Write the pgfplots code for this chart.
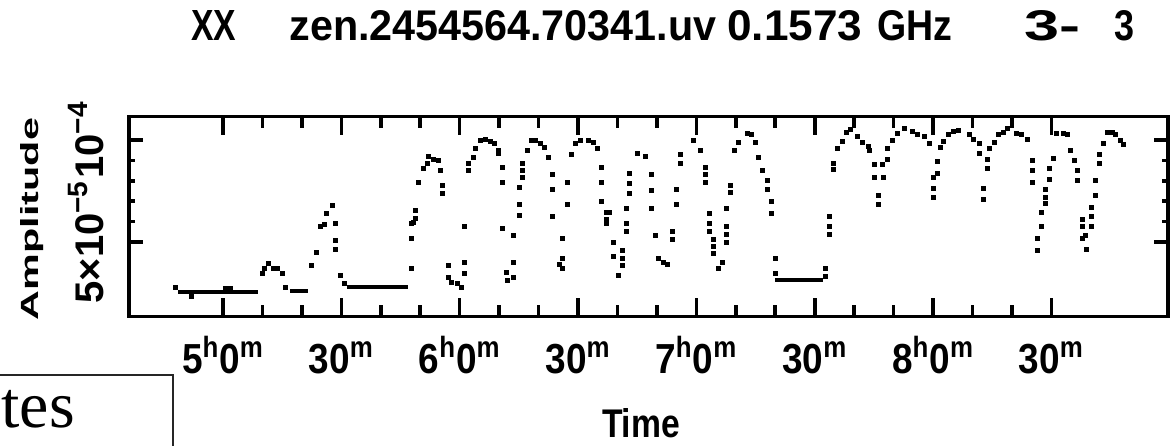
\documentclass[border=0pt]{standalone}
\usepackage{fontspec}
\setmainfont{Liberation Sans}
\newfontfamily\condfont[FakeStretch=0.88]{Liberation Sans}
\newfontfamily\seriffont{Liberation Serif}
\usepackage{pgfplots}
\pgfplotsset{compat=1.18}
\begin{document}
\begin{tikzpicture}
\useasboundingbox (0pt,0pt) rectangle (588pt,222.5pt);
\begin{axis}[
  at={(64.5pt,64.25pt)}, anchor=south west,
  scale only axis, width=519.5pt, height=100pt,
  xmin=4.603, xmax=8.9925, ymin=1.348, ymax=11.152,
  axis line style={line width=1.8pt},
  tick style={black, line width=1.8pt},
  xtick style={/pgfplots/major tick length=9.5pt, /pgfplots/minor tick length=6pt},
  ytick style={/pgfplots/major tick length=7pt, /pgfplots/minor tick length=3pt},
  xtick={5,5.5,6,6.5,7,7.5,8,8.5},
  xticklabels={5\textsuperscript{h}0\textsuperscript{m}, 30\textsuperscript{m}, 6\textsuperscript{h}0\textsuperscript{m}, 30\textsuperscript{m}, 7\textsuperscript{h}0\textsuperscript{m}, 30\textsuperscript{m}, 8\textsuperscript{h}0\textsuperscript{m}, 30\textsuperscript{m}},
  minor x tick num=2,
  ytick={5,10},
  yticklabels={{5×10\textsuperscript{−5}},{10\textsuperscript{−4}}},
  minor y tick num=4,
  xticklabel style={font=\condfont\bfseries\fontsize{21}{21}\selectfont, anchor=base, inner sep=0pt},
  xticklabel shift=28.25pt,
  yticklabel style={font=\bfseries\fontsize{20}{20}\selectfont, rotate=90, anchor=base, inner sep=0pt},
  yticklabel shift=13pt,
  clip=false,
]
% flat segments
\addplot[black, line width=2pt] coordinates {(4.810,2.55) (5.148,2.55)};
\addplot[black, line width=2pt] coordinates {(5.000,2.745) (5.042,2.745)};
\addplot[black, line width=2pt] coordinates {(5.283,2.60) (5.359,2.60)};
\addplot[black, line width=2pt] coordinates {(5.524,2.79) (5.782,2.79)};
\addplot[black, line width=2pt] coordinates {(7.332,3.14) (7.535,3.14)};
% scattered points
\addplot[only marks, mark=square*, mark size=1pt, mark options={draw=none, fill=black}] table {
t a
4.797 2.75
4.865 2.35
5.165 3.48
5.177 3.73
5.194 3.97
5.211 3.73
5.232 3.73
5.249 3.48
5.262 2.75
5.372 3.87
5.393 4.51
5.410 5.78
5.427 5.88
5.439 6.42
5.461 6.77
5.477 5.93
5.477 5.10
5.477 4.66
5.494 3.38
5.511 2.99
5.794 3.73
5.794 5.20
5.794 5.93
5.803 5.98
5.811 6.18
5.811 6.57
5.824 7.94
5.845 8.63
5.862 8.87
5.866 9.22
5.887 9.07
5.908 9.02
5.917 8.53
5.929 7.75
5.929 7.40
5.951 3.87
5.951 3.28
5.967 3.04
5.989 2.99
6.006 2.79
6.018 3.48
6.018 4.02
6.022 5.74
6.035 8.53
6.035 8.87
6.056 9.17
6.065 9.61
6.086 10.00
6.107 10.05
6.128 9.95
6.145 9.85
6.162 9.51
6.162 9.36
6.179 8.68
6.179 7.94
6.179 5.69
6.196 3.53
6.200 3.14
6.225 3.28
6.229 4.02
6.229 5.34
6.251 6.32
6.251 6.86
6.251 7.70
6.267 8.19
6.267 8.53
6.267 8.87
6.284 9.51
6.301 10.00
6.318 10.00
6.339 9.85
6.356 9.66
6.373 9.17
6.390 8.33
6.390 7.60
6.390 6.27
6.436 5.20
6.436 4.22
6.420 3.92
6.436 3.73
6.453 7.94
6.453 6.86
6.474 9.27
6.491 9.85
6.508 10.00
6.542 10.00
6.563 9.90
6.580 9.61
6.597 8.68
6.597 7.94
6.597 7.01
6.618 6.47
6.631 6.47
6.618 6.13
6.618 5.93
6.648 5.00
6.648 4.27
6.669 3.38
6.686 4.61
6.686 4.22
6.686 3.87
6.703 5.54
6.703 5.93
6.703 6.67
6.719 7.40
6.719 7.89
6.719 8.38
6.749 9.36
6.783 9.22
6.808 8.33
6.808 7.55
6.808 6.67
6.825 5.34
6.838 4.22
6.859 4.02
6.876 3.92
6.897 5.15
6.897 5.54
6.914 6.86
6.914 7.60
6.931 8.87
6.931 9.27
6.986 10.00
7.019 9.51
7.036 8.68
7.036 8.33
7.036 7.94
7.053 6.42
7.053 5.93
7.053 5.54
7.070 5.15
7.070 4.80
7.070 4.46
7.095 3.73
7.108 4.02
7.125 5.00
7.125 5.39
7.125 5.74
7.125 6.67
7.142 7.45
7.142 7.75
7.159 9.51
7.176 9.90
7.214 10.34
7.231 10.25
7.248 9.90
7.264 9.17
7.281 8.53
7.298 8.04
7.298 7.60
7.315 7.01
7.315 6.42
7.332 4.22
7.332 3.48
7.543 3.33
7.543 3.73
7.560 5.39
7.560 5.74
7.560 6.27
7.577 8.58
7.577 8.87
7.594 9.61
7.615 9.95
7.632 10.39
7.649 10.54
7.679 10.20
7.700 9.90
7.725 9.71
7.733 9.51
7.750 8.78
7.750 8.19
7.771 7.30
7.771 6.86
7.788 8.19
7.784 8.78
7.805 9.07
7.805 9.61
7.826 10.00
7.848 10.34
7.877 10.59
7.911 10.44
7.932 10.25
7.962 10.20
7.983 9.85
8.017 8.97
8.000 8.19
8.017 8.38
8.000 7.65
8.000 7.21
8.033 9.66
8.042 9.95
8.063 10.25
8.084 10.44
8.105 10.49
8.152 10.25
8.169 10.05
8.194 9.85
8.194 9.36
8.211 7.65
8.211 7.11
8.228 8.63
8.228 9.07
8.240 9.61
8.257 9.90
8.274 10.29
8.295 10.39
8.316 10.59
8.354 10.34
8.371 10.25
8.397 10.05
8.418 9.02
8.418 8.53
8.418 7.94
8.439 5.20
8.439 4.61
8.456 5.74
8.456 6.47
8.473 6.91
8.473 7.21
8.473 7.60
8.490 8.09
8.490 8.63
8.507 9.12
8.523 10.34
8.549 10.34
8.566 10.25
8.578 9.51
8.595 9.02
8.608 8.53
8.608 8.04
8.629 6.13
8.629 5.74
8.642 5.34
8.629 5.20
8.646 4.66
8.667 6.72
8.667 6.27
8.667 5.74
8.684 7.30
8.684 8.04
8.701 8.87
8.701 9.27
8.718 9.85
8.735 10.39
8.756 10.39
8.769 10.25
8.790 10.00
8.802 9.76
};
\end{axis}
% title pieces
\node[anchor=base west, inner sep=0pt] at (95.5pt,202pt) {\resizebox{22.5pt}{15pt}{\bfseries XX}};
\node[anchor=base west, inner sep=0pt] at (144.5pt,202pt) {\resizebox{213.5pt}{15pt}{\bfseries zen.2454564.70341.uv}};
\node[anchor=base west, inner sep=0pt] at (363.5pt,202pt) {\resizebox{67.5pt}{15pt}{\bfseries 0.1573}};
\node[anchor=base west, inner sep=0pt] at (438.5pt,202pt) {\resizebox{37.5pt}{15pt}{\bfseries GHz}};
\node[anchor=base west, inner sep=0pt] at (512pt,202pt) {\resizebox{28pt}{15pt}{\bfseries 3-}};
\node[anchor=base west, inner sep=0pt] at (557pt,202pt) {\resizebox{10pt}{15pt}{\bfseries 3}};
% axis labels
\node[rotate=90, anchor=base, inner sep=0pt] at (19pt,113pt) {\resizebox{101pt}{9pt}{\bfseries Amplitude}};
\node[anchor=base, inner sep=0pt] at (320.5pt,4pt) {\resizebox{39pt}{14.5pt}{\bfseries Time}};
% overlapping box
\draw[line width=0.75pt, black!85] (-5pt,-10pt) rectangle (86.5pt,35pt);
\node[anchor=base west, inner sep=0pt] at (0.5pt,9pt) {\seriffont\fontsize{33}{33}\selectfont tes};
\end{tikzpicture}
\end{document}
